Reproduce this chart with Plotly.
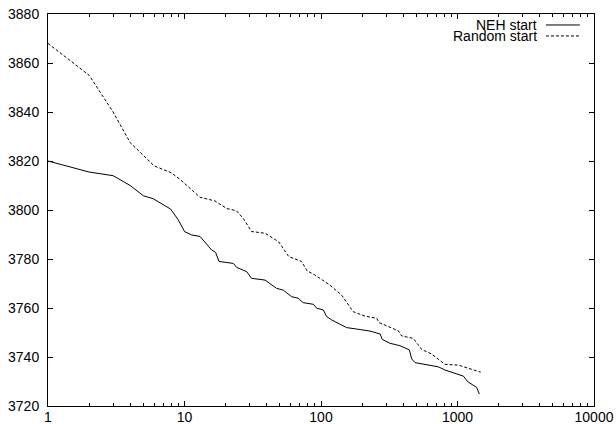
import plotly.graph_objects as go

# Data
neh_x = [1, 2, 3, 4, 5, 5.9, 7.9, 9, 10, 11.3, 13, 15.8, 16.9, 17.9, 22.8, 24.1, 28.6, 31, 38.9,
         47.4, 52.9, 61, 68, 74, 88, 93, 104, 110, 120, 154, 183, 228, 271, 281, 320, 379, 444,
         462, 489, 578, 723, 809, 959, 1104, 1188, 1306, 1381, 1445]
neh_y = [3820, 3815.5, 3814, 3810, 3805.8, 3804.6, 3800.4, 3796, 3791.2, 3789.8, 3789.2, 3783.7,
         3782.7, 3779, 3778.2, 3776.6, 3774.8, 3772.1, 3771.4, 3768, 3767.3, 3764.6, 3764, 3762.2,
         3761.5, 3759.9, 3759.2, 3756.5, 3755.1, 3752, 3751.4, 3750.6, 3749.4, 3747.2, 3745.6,
         3744.6, 3742.9, 3739.2, 3737.7, 3737.1, 3736, 3734.7, 3733.3, 3732.2, 3729.9, 3728.6,
         3727.6, 3724.9]

rand_x = [1, 2, 3, 4, 6, 8, 9.4, 13, 16.7, 20.4, 24, 27, 31, 39, 49, 58, 72, 79, 90, 116, 142,
          163, 172, 210, 256, 267, 368, 390, 474, 547, 647, 809, 1014, 1200, 1480]
rand_y = [3868, 3855, 3840, 3827.5, 3818, 3815.2, 3812.2, 3805.2, 3803.7, 3800.6, 3799.7, 3796.5,
          3791.2, 3790.5, 3787, 3781, 3779, 3775.2, 3773.5, 3769.4, 3765.2, 3760.5, 3758.5,
          3756.7, 3755.8, 3754, 3750.7, 3748.6, 3747.6, 3743.1, 3741.2, 3737, 3736.7, 3735.4,
          3733.8]

series_names = ["NEH start", "Random start"]
x_tickvals = [1, 10, 100, 1000, 10000]
x_ticktext = ["1", "10", "100", "1000", "10000"]
y_tickvals = [3720, 3740, 3760, 3780, 3800, 3820, 3840, 3860, 3880]

FONT = "Liberation Sans, Arial, Helvetica, sans-serif"

fig = go.Figure()
fig.add_trace(go.Scatter(x=neh_x, y=neh_y, mode="lines", name=series_names[0],
                         line=dict(color="black", width=1), showlegend=False))
fig.add_trace(go.Scatter(x=rand_x, y=rand_y, mode="lines", name=series_names[1],
                         line=dict(color="black", width=1, dash="3px,2px"), showlegend=False))

# gnuplot-style key: right-aligned text with line sample to the right
key_rows = [(0.972, "solid"), (0.944, "3px,2px")]
for (yy, dash), name in zip(key_rows, series_names):
    fig.add_annotation(xref="paper", yref="paper", x=0.897, y=yy, text=name, showarrow=False,
                       xanchor="right", yanchor="middle", borderpad=0, height=11,
                       font=dict(family=FONT, size=14, color="black"))
    fig.add_shape(type="line", xref="paper", yref="paper", x0=0.912, x1=0.974, y0=yy, y1=yy,
                  line=dict(color="black", width=1, dash=dash))

axis_common = dict(showline=True, linecolor="black", linewidth=1, mirror="ticks",
                   ticks="inside", tickcolor="black", tickwidth=1, ticklen=5,
                   showgrid=False, zeroline=False, automargin=False,
                   ticklabeloverflow="allow",
                   tickfont=dict(family=FONT, size=14, color="black"))

fig.update_xaxes(type="log", range=[0, 4], tickvals=x_tickvals, ticktext=x_ticktext,
                 ticklabelstandoff=-2,
                 minor=dict(ticks="inside", ticklen=3, tickcolor="black", dtick="D1", showgrid=False),
                 **axis_common)
fig.update_yaxes(range=[3720, 3880], tickvals=y_tickvals, ticklabelstandoff=5, **axis_common)

fig.update_layout(width=616, height=424, margin=dict(l=48, r=22, t=14, b=18),
                  paper_bgcolor="white", plot_bgcolor="white",
                  font=dict(family=FONT, size=14, color="black"))

fig.write_html("out.html", config={"displayModeBar": False},
               post_script="document.body.style.margin='0';document.body.style.overflow='hidden';")
